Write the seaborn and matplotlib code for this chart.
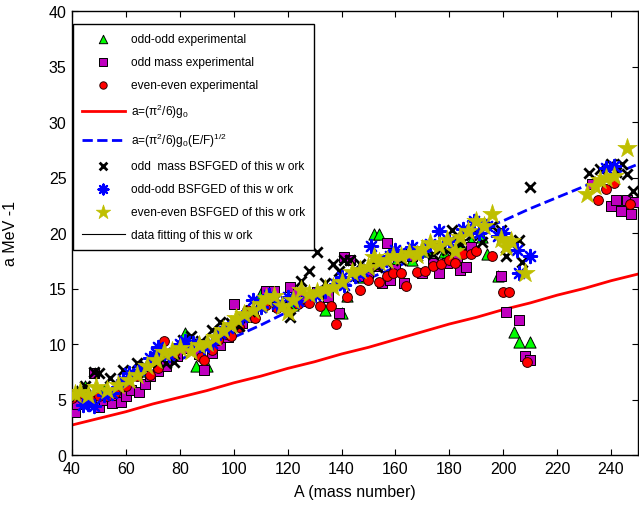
import numpy as np
import pandas as pd
import matplotlib
matplotlib.use("Agg")
import matplotlib.pyplot as plt
import seaborn as sns

# odd-odd experimental (green triangles)
oo_exp_A = [42, 45, 52, 58, 66, 76, 82, 86, 90, 96, 102, 106, 110, 116, 122, 127, 134, 140, 142,
            148, 152, 154, 160, 166, 172, 178, 184, 188, 192, 194, 198, 204, 206, 210]
oo_exp_a = [5.8, 6.2, 5.9, 6.3, 7.6, 9.2, 11.0, 8.0, 8.0, 10.8, 12.0, 12.6, 14.6, 13.8, 13.5, 14.0, 13.1, 12.8, 14.3,
            16.0, 19.9, 19.9, 17.3, 17.6, 18.4, 18.3, 19.0, 19.3, 19.6, 18.1, 16.1, 11.1, 10.2, 10.2]

# odd mass experimental (purple squares)
odd_exp_A = [41, 42, 45, 48, 50, 52, 55, 57, 58, 60, 62, 65, 67, 69, 72, 75, 79, 83, 87, 89, 92, 95, 98,
             100, 103, 107, 110, 112, 115, 116, 121, 124, 127, 131, 135, 139, 141, 143, 146, 150, 153,
             155, 157, 158, 160, 163, 166, 170, 174, 176, 179, 183, 184, 186, 188, 199, 201, 206, 208,
             210, 233, 240, 242, 243.6, 246, 247.3, 249]
odd_exp_a = [3.9, 4.6, 4.9, 7.4, 4.3, 5.0, 4.7, 5.4, 4.8, 5.3, 5.9, 5.7, 6.4, 7.1, 7.6, 8.0, 8.9, 9.6, 9.1, 7.7, 9.2, 9.9, 10.6,
             13.6, 11.9, 12.4, 13.5, 14.8, 14.8, 13.4, 15.1, 14.6, 13.9, 14.7, 14.2, 12.8, 17.8, 17.6, 16.1, 16.4, 17.0,
             15.5, 19.1, 15.8, 16.8, 15.5, 17.9, 16.4, 17.3, 16.4, 17.3, 17.8, 16.7, 16.9, 18.7, 16.1, 12.9, 12.2, 8.9,
             8.6, 24.4, 22.4, 23.0, 22.0, 23.0, 21.7, 22.8]

# even-even experimental (red circles)
ee_exp_A = [40, 43, 47, 50, 53, 56, 60, 64, 69, 72, 74, 78, 82, 88, 89, 92, 94, 97, 99, 102, 105, 108, 112,
            116, 120, 124, 128, 132, 136, 138, 142, 147, 150, 154, 157, 159, 162, 164, 168, 171, 174, 177,
            180, 182, 185, 188, 190, 196, 200, 202, 209, 235, 238, 241, 247]
ee_exp_a = [5.1, 5.6, 5.0, 5.3, 5.3, 5.6, 6.2, 7.1, 7.2, 7.8, 10.3, 9.2, 10.1, 8.8, 8.6, 9.5, 10.4, 10.9, 10.7, 11.5, 13.1, 12.3, 13.5,
            13.2, 13.0, 13.6, 13.7, 13.4, 13.4, 11.8, 14.2, 14.9, 15.8, 15.6, 16.1, 16.4, 16.4, 15.2, 16.5, 16.6, 17.0, 17.2,
            17.6, 17.3, 18.1, 18.1, 18.4, 17.9, 14.7, 14.7, 8.4, 23.0, 24.0, 24.5, 22.6]

# a=(pi^2/6)g0
fg_A = [40, 50, 60, 70, 80, 90, 100, 110, 120, 130, 140, 150, 160, 170, 180, 190, 200, 210, 220, 230, 240, 250]
fg_a = [2.7, 3.3, 3.9, 4.6, 5.2, 5.8, 6.5, 7.1, 7.8, 8.4, 9.1, 9.7, 10.4, 11.1, 11.8, 12.4, 13.1, 13.7, 14.4, 15.0, 15.7, 16.3]

# a=(pi^2/6)g0(E/F)^1/2
ef_A = [40, 50, 60, 70, 80, 90, 100, 110, 120, 130, 140, 150, 160, 170, 180, 190, 200, 210, 220, 230, 240, 250]
ef_a = [4.3, 5.4, 6.5, 7.6, 8.6, 9.6, 10.6, 11.7, 12.9, 14.1, 15.1, 15.9, 16.9, 18.0, 19.2, 20.2, 21.1, 22.2, 23.2, 24.2, 25.2, 26.2]

# odd mass BSFGED (black x)
odd_th_A = [40, 41, 45, 48, 50, 54, 59, 64, 67, 72, 75, 78, 81, 84, 88, 92, 95, 99, 102, 106, 110, 115, 118,
            121, 125, 128, 131, 134, 137, 139, 141, 143, 147, 150, 153, 156, 159, 162, 165, 168, 171, 174,
            177, 179, 181, 184, 188, 192, 196, 199, 201, 206, 207, 210, 232, 236, 240, 242, 244, 246, 248]
odd_th_a = [5.7, 5.2, 6.2, 7.5, 7.4, 6.9, 7.7, 8.3, 8.0, 8.4, 8.3, 8.4, 10.4, 10.7, 10.3, 11.3, 12.0, 11.9, 11.6, 13.0, 13.3, 14.0, 13.5,
            12.4, 15.7, 16.6, 18.3, 15.5, 17.2, 16.6, 17.6, 17.6, 17.2, 16.8, 16.9, 17.5, 17.8, 17.6, 18.2, 17.9, 18.4, 18.1,
            18.6, 18.5, 20.3, 19.0, 19.8, 19.2, 20.6, 20.3, 17.9, 19.4, 17.4, 24.1, 25.4, 25.8, 26.2, 25.5, 26.2, 25.3, 23.8]

# odd-odd BSFGED (blue asterisks)
oo_th_A = [44, 46, 48, 52, 55, 59, 61, 65, 69, 71, 72, 76, 80, 82, 85, 89, 92, 95, 98, 103, 107, 110, 113,
           116, 120, 124, 130, 134, 138, 140, 141, 145, 148, 151, 155, 158, 160, 163, 166, 170, 173, 176,
           180, 185, 189, 191, 194, 198, 200, 205, 206, 210, 238, 241]
oo_th_a = [4.5, 4.6, 4.4, 5.4, 5.6, 6.8, 7.4, 7.7, 8.7, 9.2, 9.7, 9.0, 10.0, 10.3, 10.1, 9.7, 10.1, 11.0, 11.4, 12.4, 14.0, 13.3, 14.4,
           13.6, 14.2, 13.9, 14.4, 14.8, 15.4, 16.0, 15.3, 16.1, 16.6, 18.8, 17.4, 17.9, 18.5, 18.0, 18.7, 18.4, 19.0, 20.2,
           19.3, 20.4, 21.1, 20.0, 20.6, 19.7, 20.0, 18.5, 16.4, 17.9, 25.9, 26.0]

# even-even BSFGED (olive stars)
ee_th_A = [41, 43, 46, 49, 53, 57, 61, 64, 68, 71, 74, 77, 80, 84, 87, 90, 93, 96, 99, 101, 104, 107, 110,
           112, 115, 118, 120, 122, 125, 128, 131, 134, 137, 140, 144, 147, 150, 152, 154, 157, 159, 162,
           165, 168, 170, 173, 176, 179, 182, 184, 187, 190, 193, 196, 199, 201, 203, 208, 231, 234, 236,
           238, 241, 246]
ee_th_a = [5.5, 5.7, 5.4, 6.1, 5.9, 6.3, 6.8, 7.2, 8.0, 8.6, 9.3, 9.4, 9.6, 9.4, 9.9, 10.1, 10.6, 11.3, 11.7, 12.3, 12.7, 13.1, 13.6,
           14.1, 14.3, 13.4, 12.9, 14.0, 14.9, 14.5, 14.7, 15.0, 15.1, 15.6, 16.5, 16.7, 16.9, 17.8, 17.4, 17.6, 17.9, 17.9,
           18.2, 18.0, 18.6, 19.1, 18.8, 19.4, 18.4, 19.6, 20.2, 21.1, 20.6, 21.7, 19.5, 18.7, 19.3, 16.4, 23.5, 24.2, 24.8,
           25.0, 25.1, 27.7]

plt.rcParams['font.family'] = ['Liberation Sans', 'DejaVu Sans']
plt.rcParams['mathtext.default'] = 'regular'

fig = plt.figure(figsize=(6.39, 5.06), dpi=100)
ax = fig.add_axes([72 / 639, 50 / 506, 566 / 639, 444 / 506])

lab_fg = r'a=($\pi^2$/6)g$_0$'
lab_ef = r'a=($\pi^2$/6)g$_0$(E/F)$^{1/2}$'

sns.lineplot(x=fg_A, y=fg_a, color='red', lw=2, ax=ax, label=lab_fg, zorder=2)
sns.lineplot(x=ef_A, y=ef_a, color='blue', lw=2, linestyle='--', ax=ax, label=lab_ef, zorder=2)

sns.scatterplot(x=oo_exp_A, y=oo_exp_a, marker='^', s=65, color='#00ff00', edgecolor='k', linewidth=0.7,
                ax=ax, label='odd-odd experimental', zorder=3)
sns.scatterplot(x=odd_exp_A, y=odd_exp_a, marker='s', s=48, color='#bf00bf', edgecolor='k', linewidth=0.7,
                ax=ax, label='odd mass experimental', zorder=3)
sns.scatterplot(x=ee_exp_A, y=ee_exp_a, marker='o', s=50, color='red', edgecolor='#300000', linewidth=0.7,
                ax=ax, label='even-even experimental', zorder=3)
sns.scatterplot(x=odd_th_A, y=odd_th_a, marker='x', s=55, color='k', linewidth=2,
                ax=ax, label='odd  mass BSFGED of this w ork', zorder=4)
sns.scatterplot(x=oo_th_A, y=oo_th_a, marker=(8, 2, 0), s=90, color='blue', edgecolor='blue', linewidth=1.6,
                ax=ax, label='odd-odd BSFGED of this w ork', zorder=4)
sns.scatterplot(x=ee_th_A, y=ee_th_a, marker='*', s=210, color='#bfbf00', edgecolor='#bfbf00', linewidth=0.5,
                ax=ax, label='even-even BSFGED of this w ork', zorder=5)
fit_line, = ax.plot([], [], color='k', lw=0.8, label='data fitting of this w ork')

order = ['odd-odd experimental', 'odd mass experimental', 'even-even experimental', lab_fg, lab_ef,
         'odd  mass BSFGED of this w ork', 'odd-odd BSFGED of this w ork', 'even-even BSFGED of this w ork',
         'data fitting of this w ork']
handles, labels = ax.get_legend_handles_labels()
hmap = dict(zip(labels, handles))
leg = ax.legend([hmap[k] for k in order], order, loc='upper left', bbox_to_anchor=(0.0015, 0.971),
                borderaxespad=0, fancybox=False, edgecolor='k', framealpha=1, fontsize=8.6,
                handlelength=3.6, handletextpad=0.5, labelspacing=0.92, borderpad=0.75, markerscale=0.75)
leg.get_frame().set_linewidth(1)

ax.set_xlim(40, 250)
ax.set_ylim(0, 40)
ax.set_xticks(np.arange(40, 250, 20))
ax.set_yticks(np.arange(0, 41, 5))
ax.tick_params(direction='in', length=4, width=0.8, top=True, right=True, labelsize=11.5, colors='k', pad=4)
for sp in ax.spines.values():
    sp.set_color('k')
    sp.set_linewidth(1)
ax.set_xlabel('A (mass number)', fontsize=11.5, labelpad=6)
ax.set_ylabel('a MeV -1', fontsize=11.5, labelpad=22)

fig.savefig('out.png', dpi=100)
